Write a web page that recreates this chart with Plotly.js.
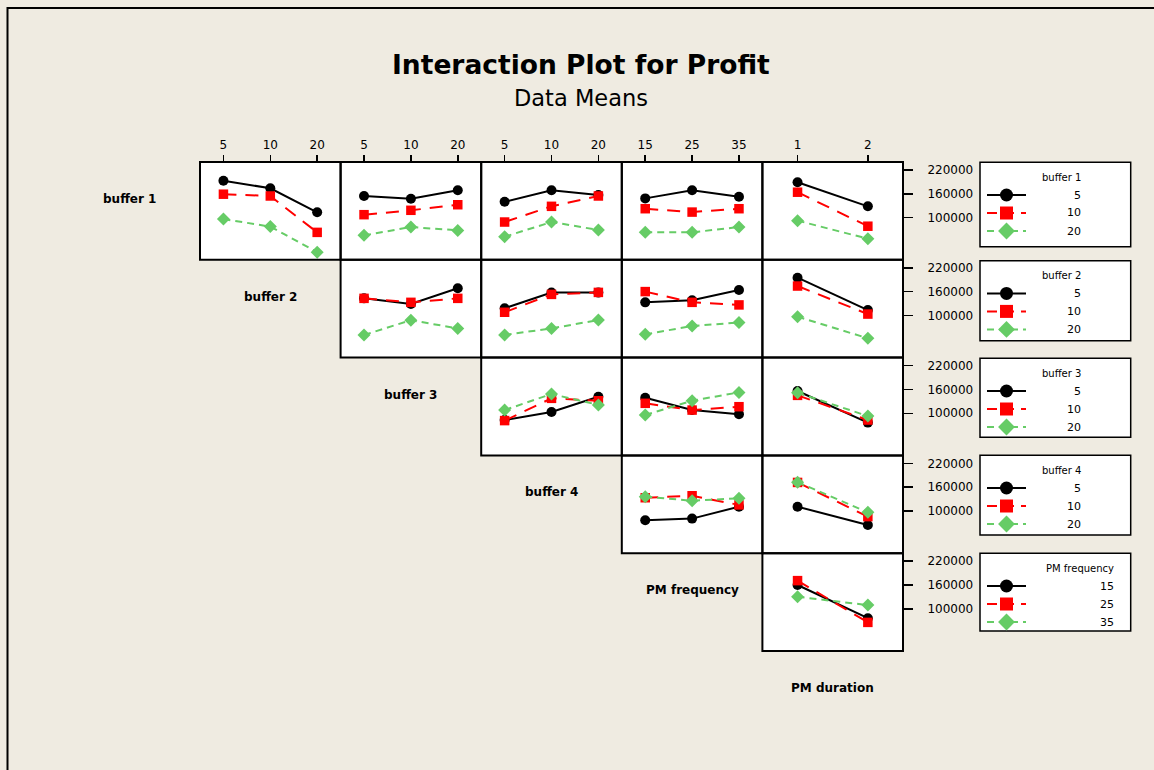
<!DOCTYPE html>
<html><head><meta charset="utf-8">
<script src="https://cdn.plot.ly/plotly-3.0.1.min.js"></script>
<style>html,body{margin:0;padding:0;background:#EFEBE1;} #chart{width:1154px;height:770px;}</style>
</head><body><div id="chart"></div>
<script>
// ---- factor names and levels ----
const factorNames = ["buffer 1","buffer 2","buffer 3","buffer 4","PM frequency","PM duration"];
const bufferLevels = ["5","10","20"];
const pmFreqLevels = ["15","25","35"];
const pmDurLevels = ["1","2"];
const factorLevels = [bufferLevels,bufferLevels,bufferLevels,bufferLevels,pmFreqLevels,pmDurLevels];
const yTickVals = [100000,160000,220000];
const yTickText = ["100000","160000","220000"];

// ---- data means: each panel = [trace level 1, level 2, level 3] over the column factor ----
// row: buffer 1 (traces 5,10,20)
const b1_b2  = [[193000,174000,113500],[159000,154500,63000],[96500,77500,13000]];
const b1_b3  = [[154500,147500,169000],[107500,118500,132500],[55500,76500,68000]];
const b1_b4  = [[140000,169000,157000],[89000,128500,154500],[52000,89000,69000]];
const b1_pmf = [[148500,169000,152500],[122500,114000,122500],[63000,63000,76500]];
const b1_pmd = [[189000,128500],[164000,78500],[92500,47000]];
// row: buffer 2
const b2_b3  = [[143000,129000,168500],[143000,133000,143000],[51000,88000,67500]];
const b2_b4  = [[118000,157500,157500],[108000,153000,158000],[51000,67500,88500]];
const b2_pmf = [[133000,138000,164000],[160000,133000,126500],[52500,73500,82000]];
const b2_pmd = [[195000,113500],[174000,103500],[97000,42500]];
// row: buffer 3
const b3_b4  = [[83000,103000,141500],[81500,137500,131500],[108000,148500,121000]];
const b3_pmf = [[139000,108000,97500],[125000,108000,116500],[95500,131500,152500]];
const b3_pmd = [[156000,76500],[145000,83000],[151500,93000]];
// row: buffer 4
const b4_pmf = [[77000,81000,111000],[133500,138500,115500],[136000,126000,132000]];
const b4_pmd = [[111000,65000],[172000,86000],[172500,97000]];
// row: PM frequency (traces 15,25,35)
const pmf_pmd = [[160000,76500],[171000,66000],[130500,109500]];

const panelData = [
  [b1_b2,b1_b3,b1_b4,b1_pmf,b1_pmd],
  [b2_b3,b2_b4,b2_pmf,b2_pmd],
  [b3_b4,b3_pmf,b3_pmd],
  [b4_pmf,b4_pmd],
  [pmf_pmd]
];

// ---- layout geometry ----
const W=1154, H=770, L0=200, CW=140.6, T0=162, RH=97.8;
const px = x => x/W, py = y => 1 - y/H;
const FONT = "DejaVu Sans, Verdana, sans-serif";
const styles = [
  {color:"#000000", dash:"solid",    symbol:"circle",  size:10},
  {color:"#FF0000", dash:"13px,9px", symbol:"square",  size:9.5},
  {color:"#66CC66", dash:"7px,5px",  symbol:"diamond", size:10}
];

const traces = [];
const shapes = [];
const annotations = [];
const layout = {
  width:W, height:H, margin:{l:0,r:0,t:0,b:0},
  paper_bgcolor:"#EFEBE1", plot_bgcolor:"rgba(0,0,0,0)",
  showlegend:false, font:{family:FONT, color:"#000"},
  shapes:shapes, annotations:annotations
};

let n = 0;
for (let r=0; r<5; r++) {
  for (let c=r; c<5; c++) {
    n++;
    const xk = n===1 ? 'xaxis' : 'xaxis'+n, yk = n===1 ? 'yaxis' : 'yaxis'+n;
    const xr = n===1 ? 'x' : 'x'+n, yr = n===1 ? 'y' : 'y'+n;
    const xs = factorLevels[c+1];
    const series = panelData[r][c-r];
    const x0 = L0 + CW*c, x1 = x0 + CW, y0 = T0 + RH*r, y1 = y0 + RH;
    shapes.push({type:'rect', xref:'paper', yref:'paper', x0:px(x0), x1:px(x1), y0:py(y1), y1:py(y0),
      fillcolor:'#FFFFFF', line:{width:0}, layer:'below'});
    shapes.push({type:'rect', xref:'paper', yref:'paper', x0:px(x0), x1:px(x1), y0:py(y1), y1:py(y0),
      fillcolor:'rgba(0,0,0,0)', line:{color:'#000', width:2}, layer:'above'});
    series.forEach((vals,s)=>{
      const st = styles[s];
      traces.push({type:'scatter', mode:'lines+markers', x:xs, y:vals, xaxis:xr, yaxis:yr,
        line:{color:st.color, width:2, dash:st.dash},
        marker:{symbol:st.symbol, size:st.size, color:st.color, line:{width:0}},
        hoverinfo:'skip', showlegend:false, cliponaxis:false});
    });
    layout[xk] = {domain:[px(x0), px(x1)], anchor:yr, type:'category',
      categoryorder:'array', categoryarray:xs, range:[-0.5, xs.length-0.5],
      showline:false, showgrid:false, zeroline:false, fixedrange:true,
      side:'top', ticks: r===0 ? 'outside' : '', ticklen:6, tickwidth:1.5, tickcolor:'#000',
      ticklabelstandoff:1,
      showticklabels: r===0, tickfont:{family:FONT, size:12, color:'#000'}};
    layout[yk] = {domain:[py(y1), py(y0)], anchor:xr, range:[-6000, 240000],
      showline:false, showgrid:false, zeroline:false, fixedrange:true,
      side: c===4 ? 'right' : 'left', ticks: c===4 ? 'outside' : '',
      tickvals:yTickVals, ticktext:yTickText, ticklen:9, tickwidth:1.5, tickcolor:'#000',
      ticklabelstandoff:12,
      showticklabels: c===4, tickfont:{family:FONT, size:12, color:'#000'}};
  }
}

// ---- overlay axis (pixel coordinates) for legend samples ----
const ov = 16;
layout['xaxis'+ov] = {domain:[0,1], range:[0,W], visible:false, fixedrange:true, anchor:'y'+ov};
layout['yaxis'+ov] = {domain:[0,1], range:[H,0], visible:false, fixedrange:true, anchor:'x'+ov};

const legendBoxes = [[162.3,246.7],[260.7,340.7],[358.3,437.3],[455.3,535],[553.3,631]];
const legendTextRight = [1083,1083,1083,1083,1116];
legendBoxes.forEach((b,r)=>{
  shapes.push({type:'rect', xref:'paper', yref:'paper', x0:px(980), x1:px(1130.7), y0:py(b[1]), y1:py(b[0]),
    fillcolor:'#FFFFFF', line:{color:'#000', width:1.5}, layer:'below'});
  annotations.push({xref:'paper', yref:'paper', x:px(legendTextRight[r]), y:py(b[0]+15),
    xanchor:'right', yanchor:'middle', showarrow:false, text:factorNames[r],
    font:{family:FONT, size:10, color:'#000'}});
  factorLevels[r].forEach((lv,s)=>{
    const yy = b[0] + 32.7 + 18*s;
    const st = styles[s];
    traces.push({type:'scatter', mode:'lines', x:[987,1026], y:[yy,yy],
      xaxis:'x'+ov, yaxis:'y'+ov,
      line:{color:st.color, width:2, dash: s===0 ? 'solid' : (s===1 ? '10px,7px' : '7px,5px')},
      hoverinfo:'skip', showlegend:false, cliponaxis:false});
    traces.push({type:'scatter', mode:'markers', x:[1006.5], y:[yy],
      xaxis:'x'+ov, yaxis:'y'+ov,
      marker:{symbol:st.symbol, size:13, color:st.color, opacity:1, line:{width:0}},
      hoverinfo:'skip', showlegend:false, cliponaxis:false});
    annotations.push({xref:'paper', yref:'paper', x:px(legendTextRight[r]), y:py(yy),
      xanchor:'right', yanchor:'middle', showarrow:false, text:lv,
      font:{family:FONT, size:11, color:'#000'}});
  });
});

// ---- factor labels on the diagonal ----
factorNames.forEach((nm,i)=>{
  annotations.push({xref:'paper', yref:'paper', x:px(L0 + CW*(i-1) + CW/2), y:py(T0 + RH*i + RH/2 - 12),
    xanchor:'center', yanchor:'middle', showarrow:false, text:'<b>'+nm+'</b>',
    font:{family:FONT, size:12, color:'#000'}});
});

// ---- titles ----
annotations.push({xref:'paper', yref:'paper', x:px(581), y:py(65), xanchor:'center', yanchor:'middle',
  showarrow:false, text:'<b>Interaction Plot for Profit</b>', font:{family:FONT, size:26.5, color:'#000'}});
annotations.push({xref:'paper', yref:'paper', x:px(581), y:py(98), xanchor:'center', yanchor:'middle',
  showarrow:false, text:'Data Means', font:{family:FONT, size:22.5, color:'#000'}});

// ---- outer frame ----
shapes.push({type:'rect', xref:'paper', yref:'paper', x0:px(7.5), x1:px(W+10), y0:py(H+10), y1:py(8),
  line:{color:'#000', width:2}, fillcolor:'rgba(0,0,0,0)', layer:'above'});

Plotly.newPlot('chart', traces, layout, {displayModeBar:false, staticPlot:true});
</script></body></html>
